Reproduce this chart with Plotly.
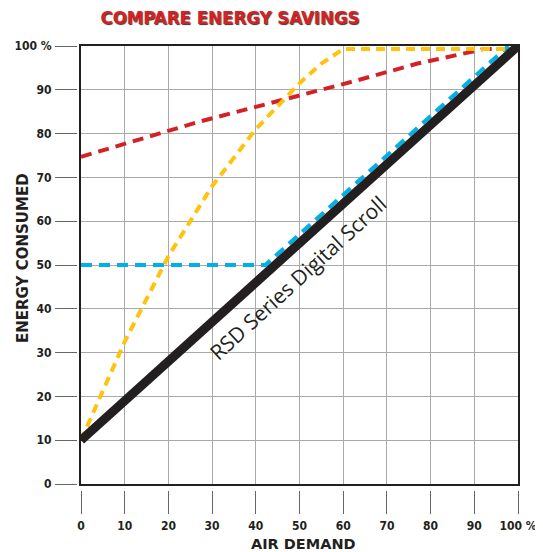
import plotly.graph_objects as go

# ---- data ----
tick_vals = [0, 10, 20, 30, 40, 50, 60, 70, 80, 90, 100]
tick_text = ["0", "10", "20", "30", "40", "50", "60", "70", "80", "90", "100 %"]

rsd_x = [0, 100]
rsd_y = [10, 100]

vsd_x = [0, 42.2, 97.8]
vsd_y = [50, 50, 100]

loadunload_x = [0, 5, 10, 20, 30, 40, 50, 55, 60, 100]
loadunload_y = [10, 21.5, 32.5, 52, 68, 81, 91.5, 96, 99.3, 99.3]

modulation_x = [0, 27, 63, 77, 90, 92, 100]
modulation_y = [74.7, 82.7, 92.1, 96, 98.8, 99.3, 99.3]

title_text = "COMPARE ENERGY SAVINGS"
x_title = "AIR DEMAND"
y_title = "ENERGY CONSUMED"
line_label = "RSD Series Digital Scroll"

# ---- geometry (page pixels; the page body has an 8px margin) ----
OFF = 8
W, H = 543 - OFF, 552 - OFF
PAPER_L, PAPER_R, PAPER_T, PAPER_B = 20, 518, 46, 532   # page coords
ML, MR, MT, MB = PAPER_L - OFF, 543 - PAPER_R, PAPER_T - OFF, 552 - PAPER_B
PW, PH = PAPER_R - PAPER_L, PAPER_B - PAPER_T
plot_left, plot_bottom = 81, 484


def px_x(p):
    return (p - PAPER_L) / PW


def px_y(p):
    return (PAPER_B - p) / PH


tick_font = dict(family="Liberation Sans Narrow, DejaVu Sans Condensed, sans-serif",
                 size=12, color="#231f20", weight="bold")

fig = go.Figure()

fig.add_trace(go.Scatter(x=modulation_x, y=modulation_y, mode="lines",
                         line=dict(color="#d42027", width=4, dash="11px,7px"),
                         showlegend=False, hoverinfo="skip"))
fig.add_trace(go.Scatter(x=vsd_x, y=vsd_y, mode="lines",
                         line=dict(color="#00b0ea", width=4, dash="11px,7px"),
                         showlegend=False, hoverinfo="skip"))
fig.add_trace(go.Scatter(x=loadunload_x, y=loadunload_y, mode="lines",
                         line=dict(color="#ffc20e", width=4, dash="9px,6px"),
                         showlegend=False, hoverinfo="skip"))
fig.add_trace(go.Scatter(x=rsd_x, y=rsd_y, mode="lines",
                         line=dict(color="#231f20", width=9),
                         showlegend=False, hoverinfo="skip"))
# invisible trace for the tick-label axes
fig.add_trace(go.Scatter(x=[0, 100], y=[0, 100], xaxis="x2", yaxis="y2",
                         mode="markers", marker=dict(opacity=0),
                         showlegend=False, hoverinfo="skip"))

fig.update_layout(
    width=W, height=H,
    margin=dict(l=ML, r=MR, t=MT, b=MB, autoexpand=False),
    paper_bgcolor="white", plot_bgcolor="white",
    title=dict(text=title_text, xref="container", yref="container",
               x=(230 - OFF) / W, y=1 - (17.5 - OFF) / H,
               xanchor="center", yanchor="middle",
               font=dict(family="Liberation Sans Narrow, DejaVu Sans Condensed, sans-serif",
                         size=18.5, color="#d42027", weight="bold",
                         shadow="1px 1px 1px #333")),
    xaxis=dict(range=[0, 100], domain=[px_x(plot_left), 1.0], automargin=False,
               tickvals=tick_vals, showticklabels=False, ticks="",
               showgrid=True, gridcolor="#a9a9a9", gridwidth=1,
               zeroline=False, showline=True, mirror=True,
               linecolor="#231f20", linewidth=1.5),
    yaxis=dict(range=[0, 100], domain=[px_y(plot_bottom), 1.0], automargin=False,
               tickvals=tick_vals, showticklabels=False, ticks="",
               showgrid=True, gridcolor="#a9a9a9", gridwidth=1,
               zeroline=False, showline=True, mirror=True,
               linecolor="#231f20", linewidth=1.5),
    xaxis2=dict(range=[0, 100], overlaying="x", anchor="free", automargin=False,
                position=px_y(490), side="bottom",
                tickvals=tick_vals, ticktext=tick_text,
                ticks="outside", ticklen=23, tickwidth=1.2, tickcolor="#666",
                showgrid=False, zeroline=False, showline=False,
                tickfont=tick_font, ticklabelstandoff=2),
    yaxis2=dict(range=[0, 100], overlaying="y", anchor="free", automargin=False,
                position=px_x(77), side="left",
                tickvals=tick_vals, ticktext=tick_text,
                ticks="outside", ticklen=22, tickwidth=1.2, tickcolor="#666",
                showgrid=False, zeroline=False, showline=False,
                tickfont=tick_font, ticklabelstandoff=1),
    annotations=[
        dict(text=line_label, x=49.6, y=47.0, xref="x", yref="y",
             textangle=-42.5, showarrow=False,
             font=dict(family="Open Sans, Noto Sans, sans-serif", size=21,
                       color="#231f20")),
        dict(text=x_title, x=px_x(303), y=px_y(544), xref="paper", yref="paper",
             showarrow=False, xanchor="center", yanchor="middle",
             font=dict(family="DejaVu Sans", size=14.5, color="#231f20",
                       weight="bold")),
        dict(text=y_title, x=px_x(23), y=px_y(258), xref="paper", yref="paper",
             showarrow=False, textangle=-90, xanchor="center", yanchor="middle",
             font=dict(family="DejaVu Sans", size=15, color="#231f20",
                       weight="bold")),
    ],
)

fig.write_html("out.html")
